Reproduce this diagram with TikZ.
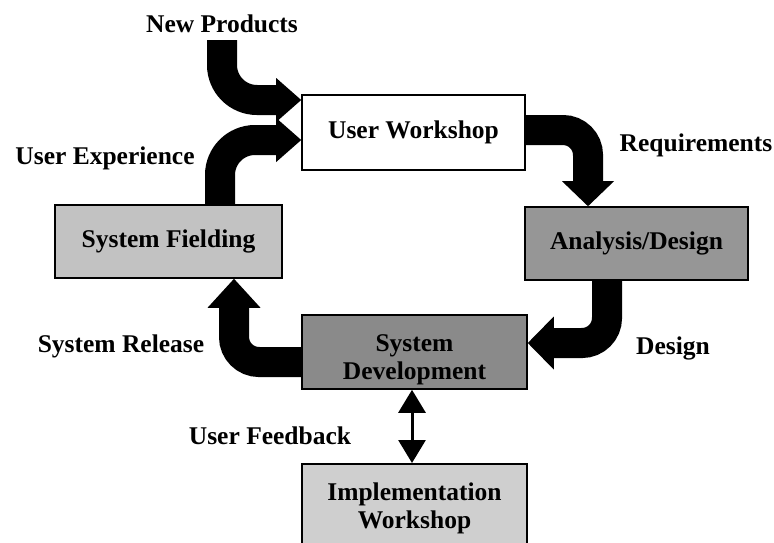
\documentclass[tikz,border=0pt]{standalone}
\usepackage{fontspec}
\setmainfont{Liberation Serif}
\usetikzlibrary{arrows.meta,calc}

\definecolor{fieldgray}{gray}{0.76}
\definecolor{designgray}{gray}{0.59}
\definecolor{devgray}{gray}{0.54}
\definecolor{implgray}{gray}{0.81}
\newcommand\diagfont{\bfseries\fontsize{25.5}{28}\selectfont}

\begin{document}
\begin{tikzpicture}[x=1pt,y=-1pt,
  stage/.style={draw=black, line width=1.6pt, rectangle, inner sep=0pt,
                align=center, font=\diagfont},
  stagetext/.style={font=\diagfont, align=center, inner sep=0pt},
  flow/.style={draw=black, line width=30pt, rounded corners=25pt},
  flowhead/.style={fill=black},
  lbl/.style={font=\diagfont, inner sep=0pt, anchor=base},
  feedback/.style={line width=3pt,
    {Triangle[width=27pt,length=23pt]}-{Triangle[width=27pt,length=23pt]}}]

\useasboundingbox (0,0) rectangle (774,542);
\clip (0,0) rectangle (774,542);

% process stages
\node[stage, fill=white, minimum width=223pt, minimum height=75pt] (uw) at (413.5,132.5) {User Workshop};
\node[stage, fill=fieldgray, minimum width=227pt, minimum height=73pt] (sf) at (168.5,241.5) {System Fielding};
\node[stage, fill=designgray, minimum width=223pt, minimum height=73pt] (ad) at (636.5,243.5) {Analysis/Design};
\node[stage, fill=devgray, minimum width=225pt, minimum height=74pt] (sd) at (414.5,352) {};
\node[stagetext] (sdtext) at (414.5,360) {System\\Development};
\node[stage, fill=implgray, minimum width=225pt, minimum height=110pt, anchor=north] (iw) at (414.5,463) {};
\node[stagetext] (iwtext) at (414.5,508) {Implementation\\Workshop};

% new products into the user workshop
\coordinate (npstart) at (222,40);
\draw[flow, rounded corners=35pt] (npstart) |- ($(uw.west)+(-25,-32.5)$);
\fill[flowhead] ($(uw.west)+(0,-32.5)$) -- ++(-25,-22) -- ++(0,44) -- cycle;

% user experience from fielding back to the workshop
\draw[flow, rounded corners=35pt] ($(sf.north)+(51.5,0)$) |- ($(uw.west)+(-25,7.5)$);
\fill[flowhead] ($(uw.west)+(0,7.5)$) -- ++(-25,-22) -- ++(0,44) -- cycle;

% requirements
\draw[flow] ($(uw.east)+(0,-2.5)$) -| ($(ad.north)+(-48.5,-25)$);
\fill[flowhead] ($(ad.north)+(-48.5,0)$) -- ++(-26,-25) -- ++(52,0) -- cycle;

% design
\draw[flow] ($(ad.south)+(-29.5,0)$) |- ($(sd.east)+(26,-9)$);
\fill[flowhead] ($(sd.east)+(0,-9)$) -- ++(26,-26.5) -- ++(0,53) -- cycle;

% system release
\draw[flow] ($(sd.west)+(0,10)$) -| ($(sf.south)+(65.5,29)$);
\fill[flowhead] ($(sf.south)+(65.5,0)$) -- ++(-26.5,29) -- ++(53,0) -- cycle;

% user feedback
\draw[feedback] ([xshift=-2.5pt]sd.south) -- ([xshift=-2.5pt]iw.north);

% flow labels
\node[lbl] (lnp) at (222,32) {New Products};
\node[lbl] (lue) at (105,164) {User Experience};
\node[lbl] (lrq) at (696,151) {Requirements};
\node[lbl] (lds) at (673,354) {Design};
\node[lbl] (lsr) at (121,352) {System Release};
\node[lbl] (luf) at (270,444) {User Feedback};
\end{tikzpicture}
\end{document}
